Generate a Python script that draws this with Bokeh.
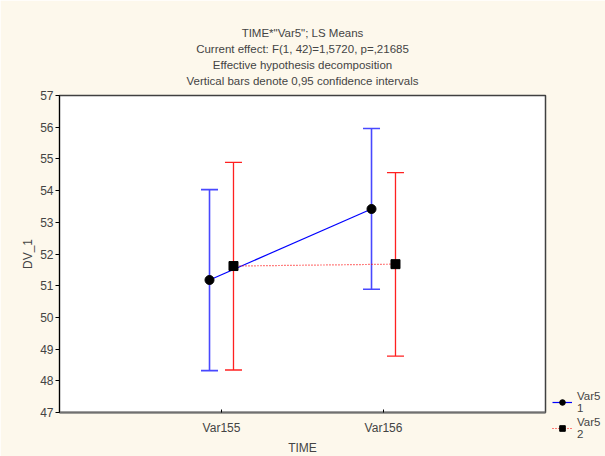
from bokeh.plotting import figure
from bokeh.models import (ColumnDataSource, Whisker, TeeHead, FixedTicker,
                          Legend, LegendItem, Range1d, Title)
from bokeh.embed import file_html
from bokeh.resources import INLINE

# ---- data ----
time_labels = ["Var155", "Var156"]
time_pos = [1, 2]
var5_levels = ["1", "2"]
mean_g1 = [51.18, 53.42]
lower_g1 = [48.32, 50.89]
upper_g1 = [54.03, 55.96]
mean_g2 = [51.62, 51.68]
lower_g2 = [48.34, 48.78]
upper_g2 = [54.89, 54.57]
y_ticks = list(range(47, 58))
title_lines = ['TIME*"Var5"; LS Means',
               "Current effect: F(1, 42)=1,5720, p=,21685",
               "Effective hypothesis decomposition",
               "Vertical bars denote 0,95 confidence intervals"]

BG = "#FDF8EC"
FONT = "Liberation Sans"
dodge = 0.074

p = figure(frame_width=486, frame_height=317, output_backend="svg", toolbar_location=None,
           x_range=Range1d(0, 3), y_range=Range1d(47, 57),
           background_fill_color="white", border_fill_color=BG,
           min_border_left=59, min_border_right=60, min_border_top=95, min_border_bottom=44)
p.grid.visible = False
p.outline_line_color = "#404040"
p.outline_line_width = 1.5

src1 = ColumnDataSource(dict(x=[t - dodge for t in time_pos], m=mean_g1, lo=lower_g1, up=upper_g1))
src2 = ColumnDataSource(dict(x=[t + dodge for t in time_pos], m=mean_g2, lo=lower_g2, up=upper_g2))

w1 = Whisker(source=src1, base="x", lower="lo", upper="up", dimension="height",
             line_color="#4848FF", line_width=1.6,
             upper_head=TeeHead(size=17, line_color="#4848FF", line_width=1.6),
             lower_head=TeeHead(size=17, line_color="#4848FF", line_width=1.6))
w2 = Whisker(source=src2, base="x", lower="lo", upper="up", dimension="height",
             line_color="#FF2020", line_width=1.3,
             upper_head=TeeHead(size=17, line_color="#FF2020", line_width=1.3),
             lower_head=TeeHead(size=17, line_color="#FF2020", line_width=1.3))
p.add_layout(w1)
p.add_layout(w2)

l1 = p.line("x", "m", source=src1, line_color="#0000FF", line_width=1.2)
l2 = p.line("x", "m", source=src2, line_color="#FF0000", line_width=1.2, line_dash="1 2")
s1 = p.scatter("x", "m", source=src1, marker="circle", size=9, color="black")
s2 = p.scatter("x", "m", source=src2, marker="square", size=9, color="black")

# axes
p.xaxis.ticker = FixedTicker(ticks=time_pos)
p.xaxis.major_label_overrides = {t: l for t, l in zip(time_pos, time_labels)}
p.xaxis.axis_label = "TIME"
p.yaxis.axis_label = "DV_1"
p.yaxis.ticker = FixedTicker(ticks=y_ticks)
for ax in (p.xaxis[0], p.yaxis[0]):
    ax.axis_label_text_font = FONT
    ax.axis_label_text_font_style = "normal"
    ax.axis_label_text_font_size = "12px"
    ax.major_label_text_font = FONT
    ax.major_label_text_font_size = "12px"
    ax.minor_tick_line_color = None
p.yaxis.axis_line_color = "black"
p.yaxis.major_tick_out = 4
p.yaxis.major_tick_in = 0
p.yaxis.major_label_standoff = 2
p.yaxis.axis_label_standoff = 2
p.xaxis.axis_line_color = "#707070"
p.xaxis.axis_line_width = 2
p.xaxis.major_tick_out = 0
p.xaxis.major_tick_in = 3
p.xaxis.major_label_standoff = 8
p.xaxis.axis_label_standoff = 3

# spacer between frame and titles
p.add_layout(Title(text=" ", text_font_size="1px", standoff=5, offset=0), "above")
for line in reversed(title_lines):
    p.add_layout(Title(text=line, align="center", text_font=FONT, text_font_size="11.5px",
                       text_font_style="normal", standoff=2, offset=0), "above")

legend = Legend(items=[LegendItem(label="Var5\n" + var5_levels[0], renderers=[l1, s1]),
                       LegendItem(label="Var5\n" + var5_levels[1], renderers=[l2, s2])],
                location=(7, -28), background_fill_color=BG, background_fill_alpha=0,
                border_line_color=None,
                label_text_font=FONT, label_text_font_size="11.5px", label_text_line_height=1.3,
                glyph_width=20, glyph_height=14, padding=0, margin=0, spacing=2,
                label_standoff=5)
p.add_layout(legend, "right")

open("out.html", "w").write(file_html(p, INLINE))
